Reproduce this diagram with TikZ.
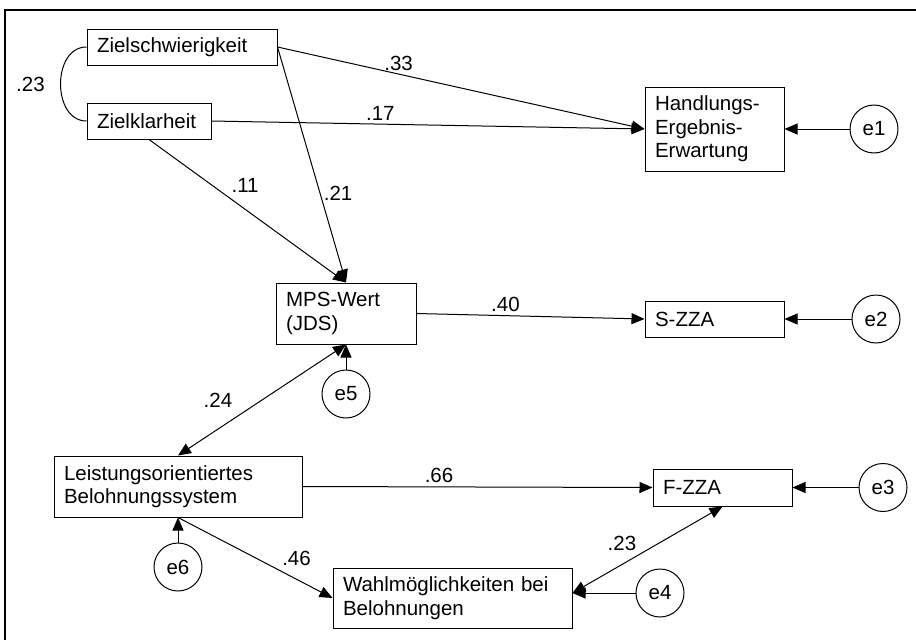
\documentclass[tikz,border=0pt]{standalone}
\usepackage{fontspec}
\setmainfont{Liberation Sans}
\usetikzlibrary{positioning,arrows.meta}
\tikzstyle{var} = [draw,rectangle,align=left,inner xsep=10pt,inner ysep=0pt,
                   minimum height=36pt]
\tikzstyle{err} = [draw,circle,minimum size=48pt,inner sep=0pt]

\begin{document}
\begin{tikzpicture}[
    x=1pt, y=-1pt,
    ->,
    >={Triangle[length=13pt,width=11pt]},
    line width=1pt,
    font=\fontsize{20.5}{23.5}\selectfont,
    node distance=65pt
]
   \useasboundingbox (0,0) rectangle (916,640);
   \draw[-,line width=1.3pt] (916,10) -| (5,640);

   \node[var,text width=170pt] (zs)   at (182,47)    {Zielschwierigkeit};
   \node[var,text width=104pt] (zk)   at (149,121)   {Zielklarheit};
   \node[var,text width=119pt,minimum height=84pt]
                               (hew)  at (714.5,129) {Handlungs-\\Ergebnis-\\Erwartung};
   \node[var,text width=120pt,minimum height=61pt]
                               (mps)  at (346,313.5) {MPS-Wert\\(JDS)};
   \node[var,text width=119pt] (sza)  at (714.5,319) {S-ZZA};
   \node[var,text width=119pt,minimum height=37pt]
                               (fza)  at (722.5,487.5) {F-ZZA};
   \node[var,text width=228pt,minimum height=61pt]
                               (lbs)  at (178,486.5) {Leistungsorientiertes\\Belohnungssystem};
   \node[var,text width=219pt,minimum height=60pt]
                               (wahl) at (452.5,598) {Wahlm\"oglichkeiten bei\\Belohnungen};

   \node[err] (e1) [right=65pt of hew]  {e1};
   \node[err] (e2) [right=67pt of sza]  {e2};
   \node[err] (e3) [right=66pt of fza]  {e3};
   \node[err] (e4) at (660,593)         {e4};
   \node[err] (e5) [below=25pt of mps]  {e5};
   \node[err] (e6) [below=25pt of lbs]  {e6};

   % correlation of the goal variables
   \draw[-] (zs.west) to[out=180,in=180,looseness=1.2]
            node[midway,left=12pt] {.23} (zk.west);

   \path
     (zs.east) edge node[pos=0.33,above] {.33} (hew.west)
               edge node[pos=0.62,right] {.21} (mps.north)
     (zk.east) edge node[pos=0.39,above] {.17} (hew.west)
     (zk.south) edge node[pos=0.4,above right] {.11} (mps.north)
     (mps.east) edge node[pos=0.39,above] {.40} (sza.west)
     (mps.south) edge[<->] node[pos=0.5,left=26pt] {.24} (lbs.north)
     (lbs.east) edge node[pos=0.39,above] {.66} (fza.west)
     (lbs.south) edge node[pos=0.65,above right] {.46} (wahl.west)
     (e4 -| wahl.east) edge[<->] node[pos=0.45,above left] {.23} (fza.south)
     ;

   % residuals
   \path
     (e1) edge (hew)
     (e2) edge (sza)
     (e3) edge (fza)
     (e4) edge (e4 -| wahl.east)
     (e5) edge (mps)
     (e6) edge (lbs)
     ;
\end{tikzpicture}
\end{document}
